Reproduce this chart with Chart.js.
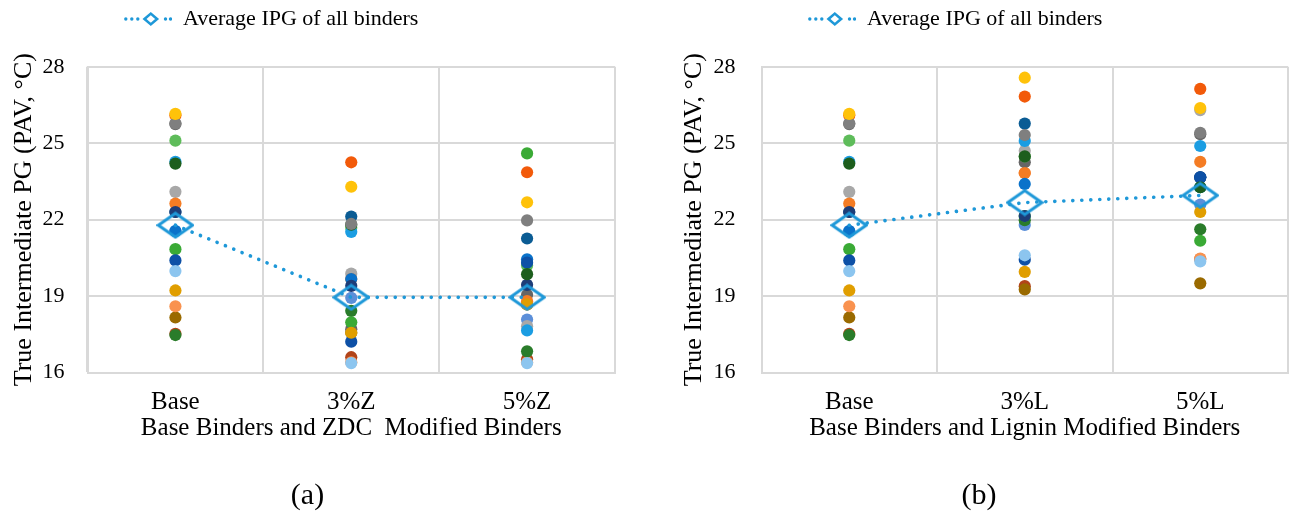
<!DOCTYPE html>
<html><head><meta charset="utf-8">
<script src="https://cdn.jsdelivr.net/npm/chart.js@4.4.1/dist/chart.umd.min.js"></script>
<style>
html,body{margin:0;padding:0;background:#fff;width:1289px;height:523px;overflow:hidden;}
#wrapA{position:absolute;left:0;top:0;width:640px;height:523px;}
#wrapB{position:absolute;left:670px;top:0;width:619px;height:523px;}
canvas{display:block;}
</style></head><body>
<div id="wrapA"><canvas id="chartA" width="640" height="523"></canvas></div>
<div id="wrapB"><canvas id="chartB" width="619" height="523"></canvas></div>
<script>
// ---------- data ----------
const categoriesZDC = ['Base', '3%Z', '5%Z'];
const categoriesLignin = ['Base', '3%L', '5%L'];
const binderNames = ['B01','B02','B03','B04','B05','B06','B07','B08','B09','B10','B11','B12','B13','B14','B15','B16','B17','B18','B19','B20','B21'];
const binderColors = ['#FFC20A','#7F7F7F','#F25A0A','#1D5E1D','#1B9DE2','#8CC5EF','#E09E00','#0D50A6','#1D3D78','#0A72CA','#3AAA35','#2A7C2A','#F47C24','#A8A8A8','#5B8FD9','#0B5C94','#5EBC5A','#666666','#F9924F','#9A6A00','#B2441A'];
const baseIPG = [26.15,25.78,26.10,24.20,24.27,19.98,19.22,20.40,22.30,21.55,20.84,17.47,22.63,23.09,21.55,22.30,25.10,25.75,18.60,18.16,17.52];
const zdc3IPG = [23.29,21.83,24.25,21.80,21.52,16.37,17.56,17.21,19.40,19.67,17.97,18.42,19.67,19.88,18.93,22.12,21.68,17.70,16.40,17.56,16.60];
const zdc5IPG = [22.68,21.97,23.86,19.86,17.65,16.37,18.67,20.31,19.44,20.44,24.60,16.83,18.80,17.82,18.08,21.26,20.20,19.05,16.40,18.67,16.52];
const lig3IPG = [27.57,25.32,26.83,24.48,25.09,20.60,19.95,20.43,22.14,23.40,22.14,21.98,23.83,24.70,21.79,25.77,24.48,24.25,23.83,19.26,19.39];
const lig5IPG = [26.38,25.41,27.13,23.27,24.89,20.36,22.30,23.66,23.66,23.27,21.17,21.62,24.27,26.30,22.59,23.66,23.27,25.35,20.47,19.50,20.45];
const avgZDC = [21.78, 18.95, 18.95];
const avgLignin = [21.78, 22.67, 22.95];
const avgLabel = 'Average IPG of all binders';
const yTicks = [16, 19, 22, 25, 28];
const yTitle = 'True Intermediate PG (PAV, \u00B0C)';

// ---------- styles ----------
const SERIF = "'Liberation Serif', 'Times New Roman', serif";
const AVG_COLOR = '#1E98D8';
const GRID = '#d9d9d9';
Chart.defaults.font.family = SERIF;
Chart.defaults.color = '#000';

function makeDiamond(w, h, lw, color) {
  const c = document.createElement('canvas');
  c.width = w; c.height = h;
  const g = c.getContext('2d');
  const cx = w / 2, cy = h / 2, hw = w / 2 - lw / 2 - 0.5, hh = h / 2 - lw / 2 - 0.5;
  g.strokeStyle = color; g.lineWidth = lw; g.lineJoin = 'miter';
  g.beginPath();
  g.moveTo(cx - hw, cy); g.lineTo(cx, cy - hh); g.lineTo(cx + hw, cy); g.lineTo(cx, cy + hh);
  g.closePath(); g.stroke();
  return c;
}
function makeLegendMarker(color) {
  const c = document.createElement('canvas');
  c.width = 48; c.height = 16;
  const g = c.getContext('2d');
  g.fillStyle = color;
  [1.8, 7.8, 13.8, 41.5, 46.5].forEach(x => { g.beginPath(); g.arc(x, 8, 1.7, 0, Math.PI * 2); g.fill(); });
  g.strokeStyle = color; g.lineWidth = 2.6;
  g.beginPath();
  g.moveTo(20.5, 8); g.lineTo(26.8, 2.6); g.lineTo(33.1, 8); g.lineTo(26.8, 13.4); g.closePath(); g.stroke();
  return c;
}
const avgDiamond = makeDiamond(38, 28, 3, AVG_COLOR);
const legendMarker = makeLegendMarker(AVG_COLOR);

const legendPlacer = {
  id: 'legendPlacer',
  afterLayout(chart, args, opts) {
    const L = chart.legend; if (!L) return;
    const lab = chart.options.plugins.legend.labels;
    const p = lab.padding, fs = lab.font.size;
    const w = L.right - L.left, h = L.bottom - L.top;
    L.left = opts.x - p; L.right = L.left + w;
    L.top = opts.y - p - fs / 2; L.bottom = L.top + h + 40;
  }
};

function buildChart(id, cats, s0, s1, s2, avg, xTitle, panel, g) {
  const datasets = binderNames.map((name, i) => ({
    type: 'line', label: name, data: [s0[i], s1[i], s2[i]],
    showLine: false, pointRadius: 6.1, pointBorderWidth: 0,
    pointBackgroundColor: binderColors[i], borderColor: binderColors[i], backgroundColor: binderColors[i],
    order: 1
  }));
  datasets.push({
    type: 'line', label: avgLabel, data: avg, showLine: true,
    borderColor: AVG_COLOR, borderWidth: 3.6, borderDash: [0.1, 8.9], borderCapStyle: 'round',
    pointStyle: avgDiamond, pointRadius: 17, backgroundColor: 'transparent',
    order: 0, fill: false, tension: 0
  });
  return new Chart(document.getElementById(id), {
    type: 'line',
    data: { labels: cats, datasets },
    plugins: [legendPlacer],
    options: {
      responsive: false, animation: false, events: [],
      layout: { autoPadding: false, padding: { left: 0, right: g.padR, top: 12.5, bottom: 0 } },
      plugins: {
        tooltip: { enabled: false },
        legendPlacer: { x: g.legendX, y: 19 },
        legend: {
          display: true, position: 'top', align: 'start',
          labels: {
            usePointStyle: true, pointStyleWidth: 48, padding: 22.25,
            font: { family: SERIF, size: 22 }, color: '#000',
            generateLabels: (chart) => [{
              text: avgLabel, pointStyle: legendMarker, fillStyle: AVG_COLOR,
              strokeStyle: AVG_COLOR, lineWidth: 0, hidden: false,
              datasetIndex: chart.data.datasets.length - 1
            }]
          }
        },
        title: {
          display: true, position: 'bottom', text: panel,
          font: { family: SERIF, size: 30, lineHeight: 1, weight: 'normal' }, color: '#000',
          padding: { top: 0, bottom: 12 }
        }
      },
      scales: {
        x: {
          type: 'category', offset: true,
          grid: { offset: true, color: GRID, lineWidth: 2, drawTicks: false },
          border: { color: GRID, width: 2 },
          ticks: { padding: 14.5, maxRotation: 0, font: { family: SERIF, size: 25 }, color: '#000' },
          title: { display: true, text: xTitle, font: { family: SERIF, size: 25 }, color: '#000', padding: { top: 0, bottom: 38 } },
          afterFit: (s) => { s.height = 108.5; s.paddingLeft = 0; s.paddingRight = 0; }
        },
        y: {
          min: yTicks[0], max: yTicks[yTicks.length - 1],
          afterBuildTicks: (s) => { s.ticks = yTicks.map(v => ({ value: v })); },
          grid: { color: GRID, lineWidth: 2, drawTicks: false },
          border: { color: GRID, width: 2 },
          ticks: { padding: g.tickPad, font: { family: SERIF, size: 22 }, color: '#000' },
          title: { display: true, text: yTitle, font: { family: SERIF, size: 26 }, color: '#000', padding: { top: 9, bottom: 0 } },
          afterFit: (s) => { s.width = g.yW; }
        }
      }
    }
  });
}

buildChart('chartA', categoriesZDC, baseIPG, zdc3IPG, zdc5IPG, avgZDC,
  'Base Binders and ZDC  Modified Binders', '(a)', { yW: 87.5, tickPad: 23, padR: 25, legendX: 124 });
buildChart('chartB', categoriesLignin, baseIPG, lig3IPG, lig5IPG, avgLignin,
  'Base Binders and Lignin Modified Binders', '(b)', { yW: 91.5, tickPad: 26, padR: 1, legendX: 138 });
</script>
</body></html>
